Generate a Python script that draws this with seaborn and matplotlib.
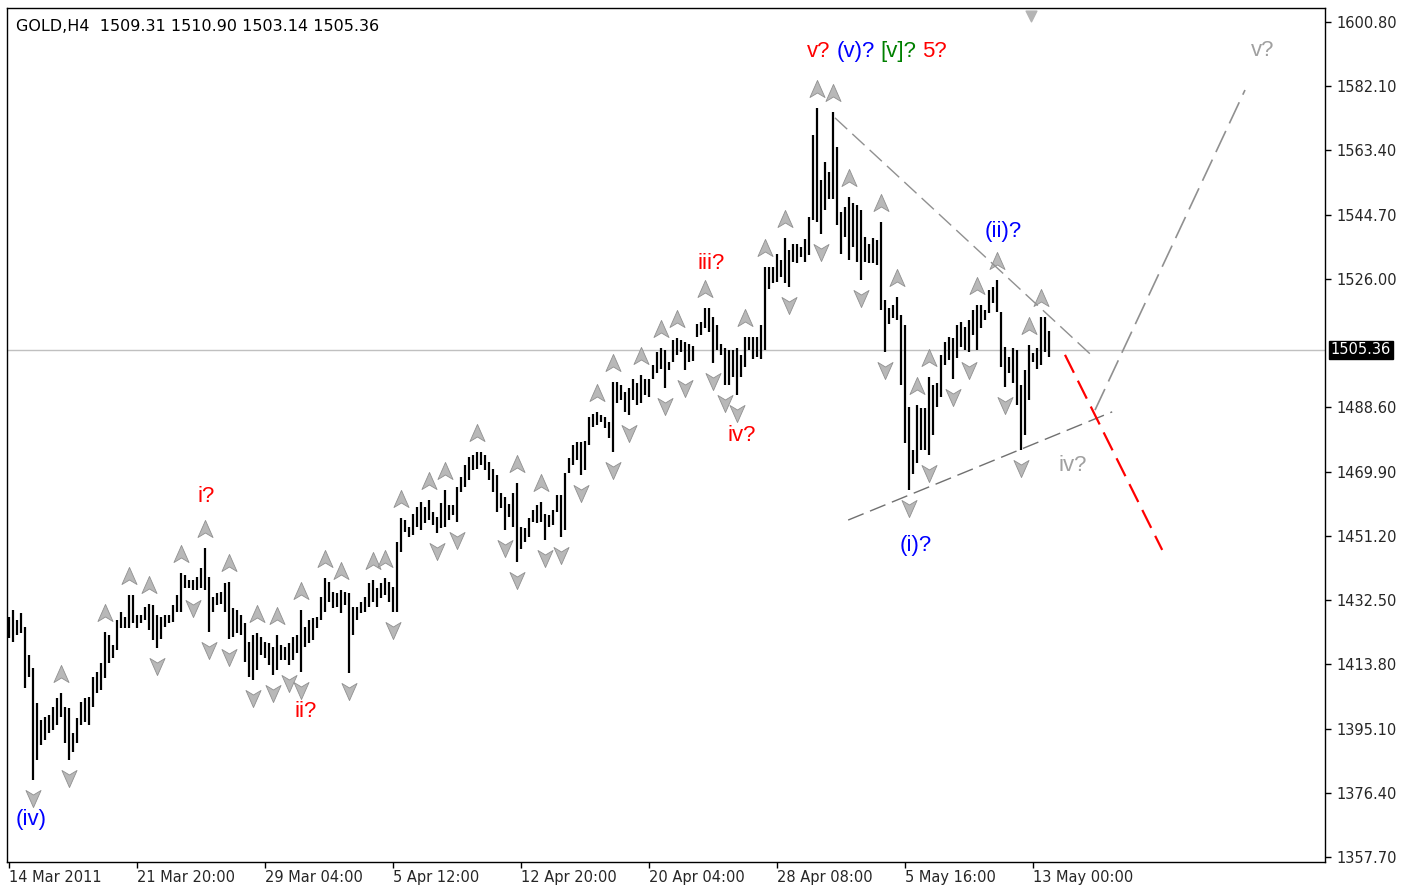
import numpy as np
import matplotlib
matplotlib.use("Agg")
import matplotlib.pyplot as plt
from matplotlib.path import Path
from matplotlib.transforms import offset_copy
import seaborn as sns

# GOLD H4 bars (high / low per bar)
HIGHS = [1427.7, 1429.6, 1426.7, 1428.6, 1424.8, 1416.5, 1412.6, 1402.4, 1397.6, 1398.5,
         1399.0, 1401.5, 1403.9, 1405.3, 1401.5, 1401.0, 1393.7, 1398.1, 1402.9, 1403.9,
         1404.4, 1410.2, 1411.7, 1414.1, 1423.3, 1422.3, 1419.4, 1426.7, 1429.1, 1427.7,
         1434.0, 1434.0, 1428.1, 1428.1, 1430.6, 1431.5, 1431.1, 1428.1, 1427.7, 1428.1,
         1428.1, 1431.1, 1434.0, 1440.3, 1439.8, 1438.3, 1438.3, 1439.3, 1441.7, 1447.6,
         1439.3, 1433.5, 1434.5, 1434.9, 1437.4, 1437.9, 1430.1, 1429.6, 1428.1, 1425.7,
         1420.4, 1422.3, 1422.8, 1421.8, 1420.4, 1419.9, 1418.9, 1422.3, 1419.4, 1418.9,
         1419.9, 1421.8, 1422.3, 1429.6, 1424.8, 1426.7, 1427.2, 1427.7, 1433.5, 1438.8,
         1437.9, 1434.9, 1434.5, 1435.4, 1434.9, 1434.5, 1430.6, 1430.6, 1432.0, 1433.5,
         1437.4, 1438.3, 1435.9, 1437.4, 1438.8, 1437.9, 1436.4, 1449.5, 1456.3, 1455.8,
         1453.9, 1457.7, 1459.7, 1461.1, 1459.7, 1461.6, 1458.2, 1456.8, 1460.7, 1464.5,
         1460.2, 1460.2, 1465.5, 1468.4, 1471.8, 1474.2, 1474.7, 1475.7, 1475.7, 1474.7,
         1472.8, 1470.8, 1468.9, 1463.6, 1462.6, 1460.6, 1463.6, 1466.5, 1453.9, 1453.4,
         1456.3, 1458.7, 1460.2, 1461.1, 1457.7, 1457.2, 1458.7, 1463.1, 1463.1, 1469.4,
         1473.8, 1477.6, 1478.6, 1478.4, 1478.8, 1485.9, 1486.8, 1487.3, 1486.4, 1485.9,
         1484.4, 1496.1, 1496.1, 1495.1, 1493.2, 1494.1, 1497.0, 1495.6, 1498.0, 1497.0,
         1497.0, 1500.9, 1504.8, 1505.8, 1505.3, 1501.9, 1508.2, 1508.7, 1508.2, 1507.7,
         1507.2, 1506.5, 1513.0, 1513.5, 1517.4, 1517.4, 1515.0, 1512.5, 1507.2, 1505.8,
         1505.3, 1505.3, 1505.8, 1503.8, 1509.2, 1509.2, 1509.2, 1509.2, 1512.5, 1529.6,
         1529.6, 1529.6, 1533.4, 1531.5, 1537.8, 1534.4, 1536.3, 1536.3, 1535.4, 1537.5,
         1544.1, 1567.9, 1575.7, 1554.8, 1560.1, 1557.2, 1574.7, 1564.5, 1545.6, 1547.0,
         1549.9, 1548.0, 1547.5, 1546.0, 1538.3, 1536.3, 1537.8, 1537.3, 1542.6, 1519.8,
         1517.4, 1518.4, 1520.8, 1515.5, 1512.5, 1488.8, 1476.1, 1489.2, 1488.3, 1488.3,
         1497.5, 1495.1, 1495.6, 1503.8, 1507.7, 1509.2, 1508.7, 1512.6, 1513.5, 1512.1,
         1514.0, 1516.9, 1518.4, 1518.4, 1516.9, 1522.8, 1523.7, 1525.7, 1516.5, 1506.3,
         1503.4, 1505.8, 1505.3, 1495.1, 1499.5, 1506.8, 1504.3, 1505.8, 1515.0, 1515.0,
         1510.9]

LOWS = [1421.4, 1420.4, 1422.3, 1422.8, 1406.8, 1410.2, 1380.1, 1385.9, 1390.3, 1391.8,
        1393.7, 1394.7, 1396.1, 1398.5, 1390.8, 1385.9, 1388.4, 1390.8, 1396.1, 1397.1,
        1396.1, 1401.5, 1405.3, 1406.3, 1409.7, 1414.1, 1415.5, 1418.0, 1424.3, 1424.3,
        1424.3, 1425.7, 1424.3, 1425.7, 1426.7, 1423.8, 1420.9, 1418.4, 1421.3, 1424.8,
        1425.7, 1426.2, 1429.1, 1429.1, 1435.9, 1435.9, 1435.4, 1435.4, 1435.9, 1435.4,
        1423.3, 1429.1, 1431.1, 1431.5, 1429.1, 1421.3, 1421.8, 1422.8, 1422.3, 1414.6,
        1410.2, 1409.2, 1412.1, 1416.5, 1415.5, 1413.6, 1410.7, 1412.1, 1415.0, 1415.0,
        1413.6, 1415.0, 1417.0, 1411.6, 1418.9, 1419.9, 1420.9, 1424.3, 1426.7, 1429.1,
        1432.0, 1430.1, 1430.6, 1428.6, 1431.1, 1411.2, 1422.3, 1426.7, 1428.6, 1429.1,
        1430.6, 1432.0, 1430.6, 1433.0, 1434.0, 1432.0, 1429.1, 1429.1, 1446.6, 1452.4,
        1450.9, 1451.4, 1453.9, 1452.9, 1454.8, 1455.8, 1454.4, 1451.9, 1453.4, 1453.9,
        1455.8, 1457.3, 1455.3, 1464.1, 1465.5, 1467.4, 1470.4, 1470.8, 1471.8, 1470.4,
        1467.4, 1464.0, 1458.2, 1459.2, 1452.9, 1456.8, 1453.9, 1443.7, 1447.5, 1449.5,
        1450.9, 1455.3, 1454.8, 1455.3, 1450.0, 1453.9, 1454.3, 1458.2, 1450.9, 1452.9,
        1469.4, 1471.8, 1473.3, 1469.0, 1470.5, 1477.6, 1483.0, 1483.4, 1484.4, 1482.5,
        1479.6, 1475.7, 1489.8, 1490.7, 1487.3, 1486.4, 1490.7, 1489.3, 1489.8, 1492.2,
        1491.7, 1497.0, 1498.5, 1499.9, 1494.1, 1499.5, 1501.9, 1503.8, 1504.8, 1499.5,
        1501.9, 1502.0, 1509.2, 1509.6, 1511.6, 1510.6, 1501.4, 1505.3, 1503.8, 1495.1,
        1495.1, 1497.5, 1492.2, 1497.5, 1500.4, 1505.3, 1502.8, 1503.3, 1502.8, 1505.3,
        1523.2, 1524.7, 1525.2, 1526.6, 1524.7, 1523.7, 1531.0, 1530.5, 1532.5, 1531.0,
        1533.0, 1543.1, 1542.6, 1539.2, 1546.0, 1549.4, 1549.4, 1541.7, 1533.4, 1538.3,
        1531.5, 1535.4, 1531.0, 1525.7, 1531.0, 1530.5, 1530.5, 1530.0, 1516.9, 1504.8,
        1513.0, 1514.5, 1514.0, 1495.1, 1478.1, 1464.5, 1469.3, 1472.3, 1476.2, 1476.2,
        1474.7, 1480.5, 1488.8, 1491.7, 1500.9, 1502.4, 1497.0, 1502.9, 1506.3, 1505.3,
        1504.8, 1509.7, 1505.3, 1511.6, 1514.0, 1516.0, 1518.9, 1516.5, 1500.4, 1494.6,
        1498.5, 1495.6, 1489.3, 1476.2, 1480.5, 1490.7, 1501.9, 1499.9, 1500.9, 1504.8,
        1503.14]

LAST_PRICE = 1505.36
HEADER = "GOLD,H4  1509.31 1510.90 1503.14 1505.36"

Y_TICKS = [1357.70, 1376.40, 1395.10, 1413.80, 1432.50, 1451.20, 1469.90,
           1488.60, 1526.00, 1544.70, 1563.40, 1582.10, 1600.80]
X_TICK_BARS = [0, 32, 64, 96, 128, 160, 192, 224, 256]
X_TICK_LABELS = ["14 Mar 2011", "21 Mar 20:00", "29 Mar 04:00", "5 Apr 12:00",
                 "12 Apr 20:00", "20 Apr 04:00", "28 Apr 08:00", "5 May 16:00",
                 "13 May 00:00"]

# trend lines (bar index, price)
UPPER_LINE = ([206.6, 270.9], [1572.9, 1503.6])
LOWER_LINE = ([209.9, 275.9], [1455.8, 1487.3])
RED_LINE = ([264.1, 288.4], [1503.9, 1447.1])
PROJ_LINE = ([271.6, 309.1], [1487.8, 1581.0])

# wave labels: text, bar index, price, colour
WAVE_LABELS = [
    ("(iv)", 5.6, 1368.5, "#0000ff"),
    ("i?", 49.4, 1462.8, "#ff0000"),
    ("ii?", 74.4, 1400.2, "#ff0000"),
    ("iii?", 175.6, 1530.6, "#ff0000"),
    ("iv?", 183.4, 1480.3, "#ff0000"),
    ("(ii)?", 248.6, 1539.7, "#0000ff"),
    ("(i)?", 226.9, 1448.5, "#0000ff"),
    ("iv?", 266.1, 1471.8, "#a0a0a0"),
    ("v?", 313.6, 1592.6, "#a0a0a0"),
    ("v?", 202.6, 1592.1, "#ff0000"),
    ("(v)?", 211.9, 1592.1, "#0000ff"),
    ("[v]?", 222.4, 1592.1, "#008000"),
    ("5?", 231.4, 1592.1, "#ff0000"),
]

sns.set_theme(style="white")
plt.rcParams["font.family"] = ["DejaVu Sans"]

highs = np.array(HIGHS)
lows = np.array(LOWS)
idx = np.arange(len(highs))

fig = plt.figure(figsize=(14.11, 8.93), dpi=100)
ax = fig.add_axes([7 / 1411, 31 / 893, 1318 / 1411, 854 / 893])

ax.axhline(LAST_PRICE, color="#c0c0c0", lw=1, zorder=1)
ax.vlines(idx, lows, highs, color="black", lw=1.6, zorder=3)

# fractals (Bill Williams rule)
up_arrow = Path([(0, 1), (0.75, -0.7), (0, -0.25), (-0.75, -0.7), (0, 1)],
                [Path.MOVETO, Path.LINETO, Path.LINETO, Path.LINETO, Path.CLOSEPOLY])
down_arrow = Path([(0, -1), (0.75, 0.7), (0, 0.25), (-0.75, 0.7), (0, -1)],
                  [Path.MOVETO, Path.LINETO, Path.LINETO, Path.LINETO, Path.CLOSEPOLY])
up_i, dn_i = [], []
for i in range(2, len(highs) - 2):
    if highs[i] > highs[i - 1] and highs[i] > highs[i - 2] and highs[i] >= highs[i + 1] and highs[i] >= highs[i + 2]:
        up_i.append(i)
    if lows[i] < lows[i - 1] and lows[i] < lows[i - 2] and lows[i] <= lows[i + 1] and lows[i] <= lows[i + 2]:
        dn_i.append(i)
up_tr = offset_copy(ax.transData, fig=fig, y=18, units="dots")
dn_tr = offset_copy(ax.transData, fig=fig, y=-17, units="dots")
ax.scatter(idx[up_i], highs[up_i], marker=up_arrow, s=210, color="#b8b8b8",
           edgecolors="#909090", linewidths=0.6, transform=up_tr, zorder=2)
ax.scatter(idx[dn_i], lows[dn_i], marker=down_arrow, s=210, color="#b8b8b8",
           edgecolors="#909090", linewidths=0.6, transform=dn_tr, zorder=2)

# trend lines
sns.lineplot(x=UPPER_LINE[0], y=UPPER_LINE[1], ax=ax, color="#909090", lw=1,
             linestyle=(0, (12, 5)), zorder=4)
sns.lineplot(x=LOWER_LINE[0], y=LOWER_LINE[1], ax=ax, color="#707070", lw=1,
             linestyle=(0, (12, 5)), zorder=4)
sns.lineplot(x=PROJ_LINE[0], y=PROJ_LINE[1], ax=ax, color="#909090", lw=1.2,
             linestyle=(0, (14, 5)), zorder=4)
sns.lineplot(x=RED_LINE[0], y=RED_LINE[1], ax=ax, color="#ff0000", lw=1.6,
             linestyle=(0, (9, 4)), zorder=4)

for txt, xi, yp, col in WAVE_LABELS:
    ax.text(xi, yp, txt, color=col, fontsize=16, ha="center", va="center",
            family=["Liberation Sans", "DejaVu Sans"], zorder=5)

ax.text(0.007, 0.978, HEADER, transform=ax.transAxes, fontsize=11.5,
        ha="left", va="center", color="black")

# chart shift marker
ax.scatter([0.777], [0.991], marker="v", s=60, color="#b4b4b4",
           transform=ax.transAxes, clip_on=False, zorder=6)

ax.set_xlim(-0.375, 329.1)
ax.set_ylim(1356.24, 1604.88)
ax.yaxis.tick_right()
ax.set_yticks(Y_TICKS)
ax.set_yticklabels([f"{v:.2f}" for v in Y_TICKS], fontsize=10.5)
ax.set_xticks(X_TICK_BARS)
ax.set_xticklabels(X_TICK_LABELS, fontsize=10.5, ha="left")
ax.tick_params(axis="both", direction="out", length=4, width=1, color="black",
               pad=2, right=True, bottom=True, left=False)
ax.tick_params(axis="y", pad=4)
for s in ax.spines.values():
    s.set_color("black")
    s.set_linewidth(1)

ax.annotate(f"{LAST_PRICE:.2f}", xy=(1, LAST_PRICE), xycoords=("axes fraction", "data"),
            xytext=(4, 0), textcoords="offset points", ha="left", va="center",
            fontsize=10.5, color="white", annotation_clip=False,
            bbox=dict(boxstyle="square,pad=0.12", fc="black", ec="black"))

fig.savefig("out.png", dpi=100, facecolor="white")
